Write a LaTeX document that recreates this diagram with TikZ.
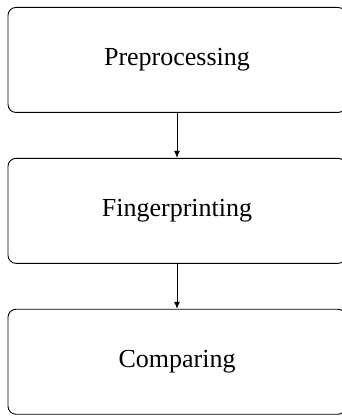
\documentclass[tikz,border=0pt]{standalone}
\usepackage{fontspec}
\setmainfont{Liberation Serif}
\usetikzlibrary{arrows.meta,
                graphs}

\tikzset{stage/.style={draw,rounded corners=8pt,line width=0.9pt,
                       minimum width=338pt,minimum height=105pt,
                       font=\fontsize{26}{30}\selectfont}}

\begin{document}
\begin{tikzpicture}[x=1pt,y=1pt]
 \useasboundingbox (0,0) rectangle (342,416);
 \begin{scope}[shift={(177,409)}]
 \graph [grow down sep=45pt,nodes=stage,
         edges={line width=0.9pt,-{Latex[length=7pt,width=6pt]}}]
   {
     pre/Preprocessing
     -> fin/Fingerprinting
     -> com/Comparing;
   };
 \end{scope}
\end{tikzpicture}
\end{document}
